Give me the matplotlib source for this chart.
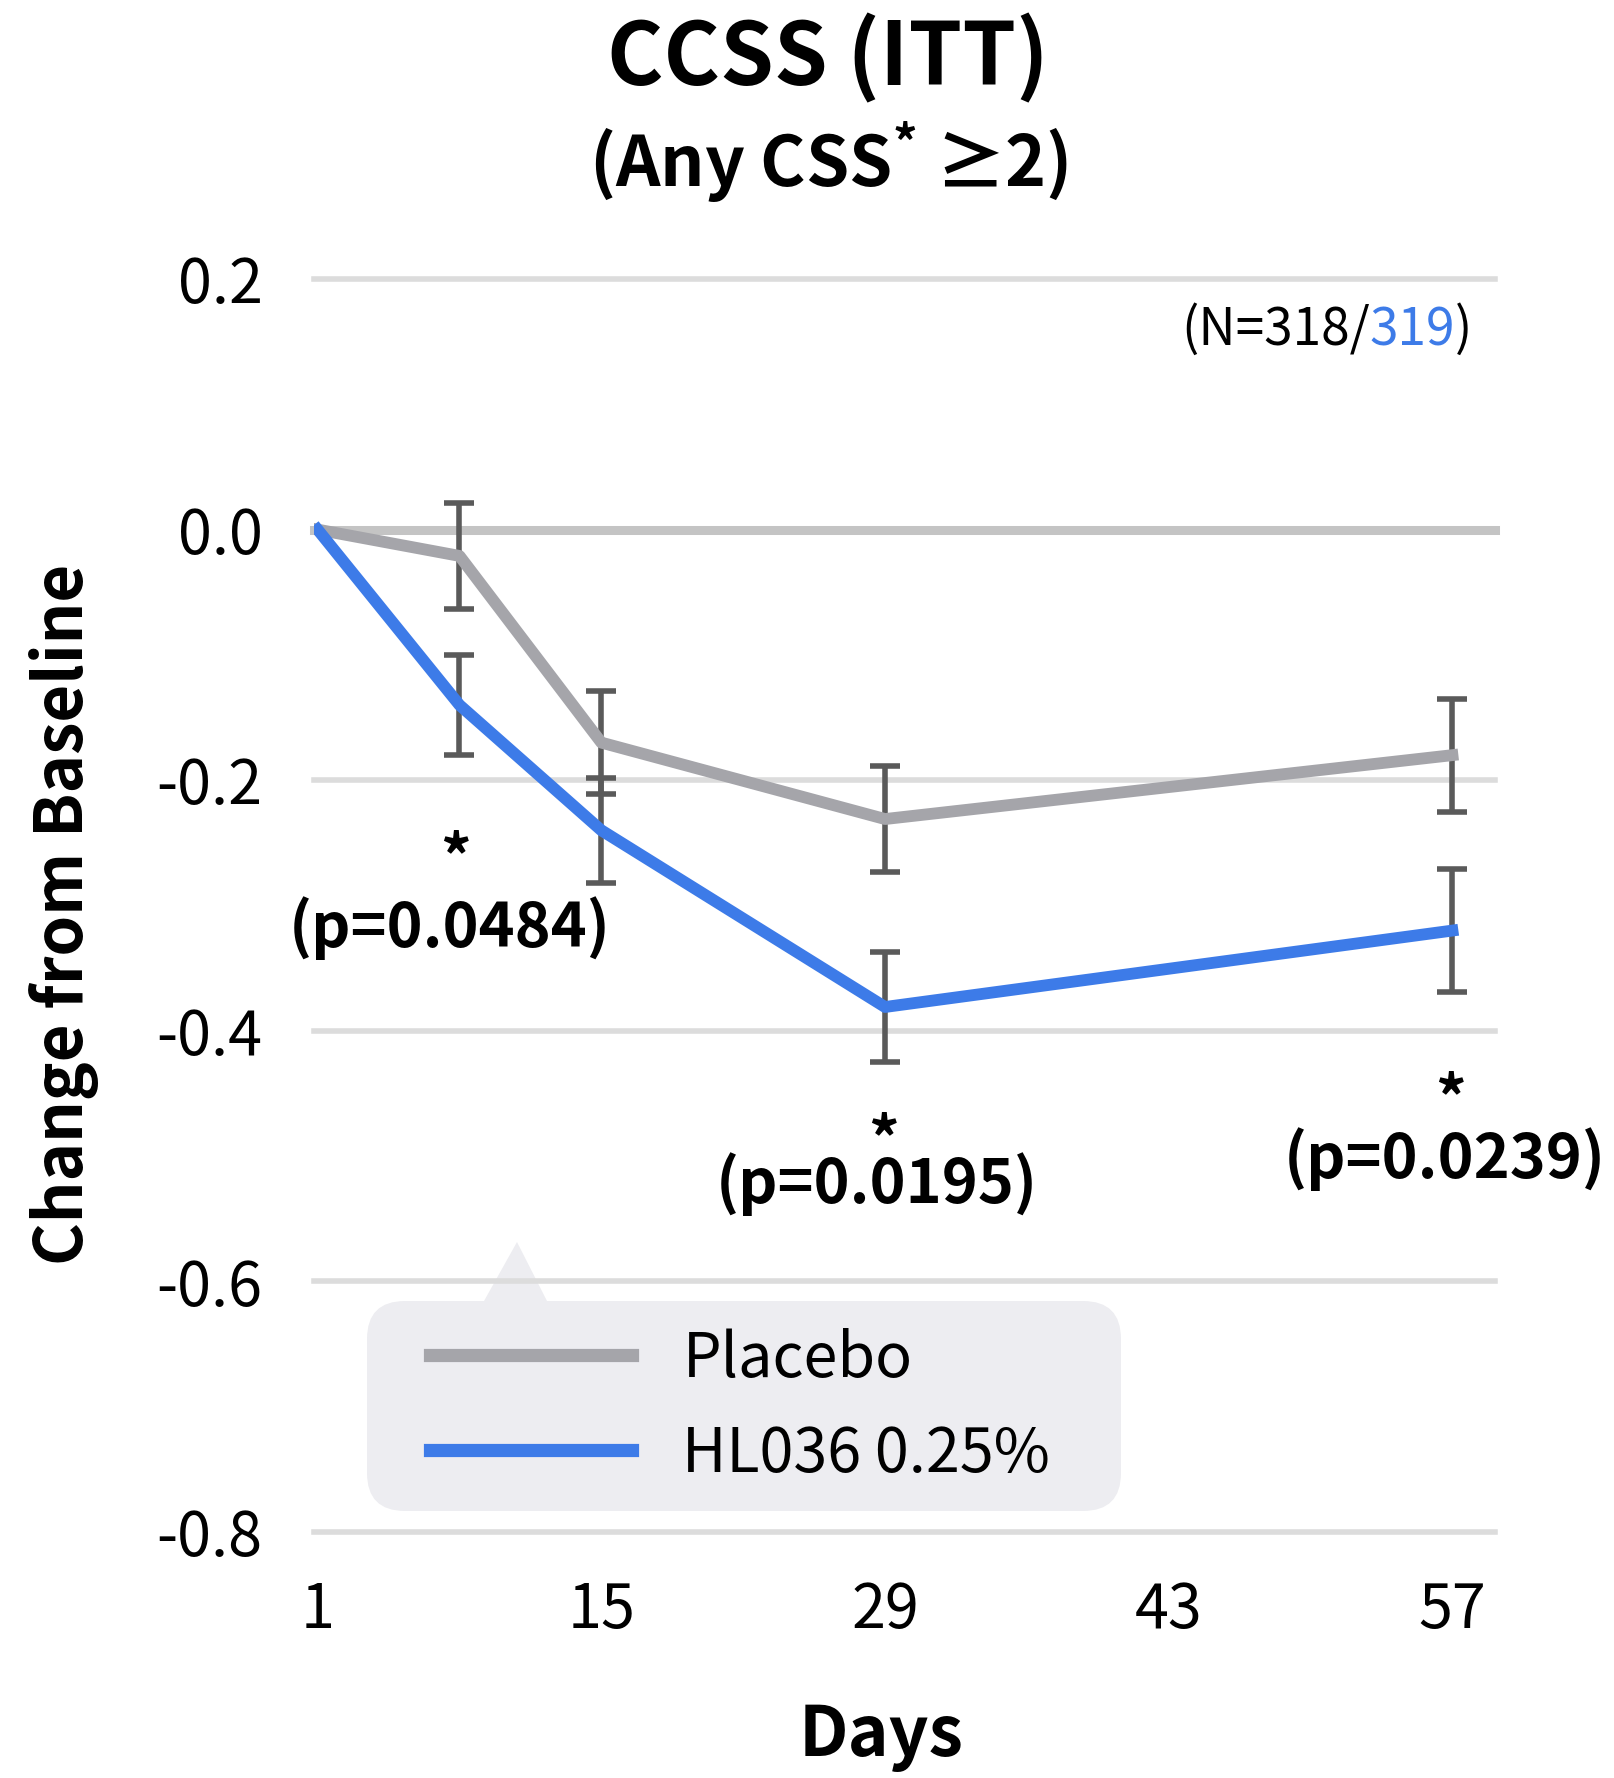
import matplotlib
matplotlib.use("Agg")
import matplotlib.pyplot as plt
from matplotlib.ticker import FuncFormatter
from matplotlib.patches import FancyBboxPatch, Polygon
from matplotlib.transforms import IdentityTransform

FONT = ["Noto Sans CJK KR", "DejaVu Sans"]
plt.rcParams["font.family"] = FONT
plt.rcParams["mathtext.fontset"] = "custom"
plt.rcParams["mathtext.bf"] = "Noto Sans CJK KR:bold"
plt.rcParams["mathtext.rm"] = "Noto Sans CJK KR"

days = [1, 8, 15, 29, 57]
placebo = [0.0, -0.021, -0.170, -0.231, -0.180]
placebo_err = [0.0, 0.042, 0.041, 0.042, 0.045]
hl036 = [0.0, -0.140, -0.240, -0.381, -0.320]
hl036_err = [0.0, 0.040, 0.042, 0.044, 0.049]
x_ticks = [1, 15, 29, 43, 57]
y_ticks = [-0.8, -0.6, -0.4, -0.2, 0.0, 0.2]
p_labels = ["(p=0.0484)", "(p=0.0195)", "(p=0.0239)"]

GRAY = "#a5a5aa"
BLUE = "#3d7be8"
ERR = "#5a5a5a"

fig = plt.figure(figsize=(16.14, 17.78), dpi=100)
ax = fig.add_axes([314 / 1614, 1 - 1532 / 1778, 1181 / 1614, 1253 / 1778])
ax.patch.set_visible(False)

# grid lines
for y in y_ticks:
    if y == 0.0:
        ax.axhline(y, color="#c4c4c4", linewidth=6.5, zorder=1, clip_on=False)
    else:
        ax.axhline(y, color="#dcdcdc", linewidth=4, zorder=1, clip_on=False)

ax.errorbar(days[1:], placebo[1:], yerr=placebo_err[1:], fmt="none",
            ecolor=ERR, elinewidth=4, capsize=11, capthick=4, zorder=2)
ax.errorbar(days[1:], hl036[1:], yerr=hl036_err[1:], fmt="none",
            ecolor=ERR, elinewidth=4, capsize=11, capthick=4, zorder=2)
ax.plot(days, placebo, color=GRAY, linewidth=8.5, label="Placebo", zorder=3)
ax.plot(days, hl036, color=BLUE, linewidth=8.5, label="HL036 0.25%", zorder=4)

ax.set_xlim(0.82, 59.1)
ax.set_ylim(-0.8, 0.2)
ax.set_xticks(x_ticks)
ax.set_yticks(y_ticks)
ax.yaxis.set_major_formatter(FuncFormatter(lambda v, pos: f"{v:.1f}".replace("\u2212", "-")))
ax.tick_params(axis="both", length=0, labelsize=44)
ax.tick_params(axis="y", pad=37)
ax.tick_params(axis="x", pad=34)
for s in ax.spines.values():
    s.set_visible(False)

fig.canvas.draw()
r = fig.canvas.get_renderer()
inv = ax.transData.inverted()

# significance marks: star above the p value, one text each
p_pos = [(7.5, -0.318), (28.6, -0.522), (56.6, -0.502)]
spacing = [1.08, 0.56, 0.88]
for (px, py), lab, ls in zip(p_pos, p_labels, spacing):
    probe = ax.text(px, py, lab, ha="center", va="center", fontsize=44, fontweight="bold")
    h = probe.get_window_extent(r).height
    probe.remove()
    ax.annotate(" *\n" + lab, xy=(px, py), xytext=(0, -h / 2), textcoords="offset pixels",
                ha="center", va="bottom", multialignment="center", linespacing=ls,
                fontsize=44, fontweight="bold")

# N text, right-aligned in three pieces
t_close = ax.text(58.0, 0.159, ")", ha="right", va="center", fontsize=37)
x0 = t_close.get_window_extent(r).x0
t_num = ax.text(inv.transform((x0, 0))[0], 0.159, "319", ha="right", va="center",
                fontsize=37, color=BLUE)
x0 = t_num.get_window_extent(r).x0
ax.text(inv.transform((x0, 0))[0], 0.159, "(N=318/", ha="right", va="center", fontsize=37)

# legend background (callout)
fig.patches.append(FancyBboxPatch((367, 267), 754, 210,
                                  boxstyle="round,pad=0,rounding_size=38",
                                  facecolor="#ededf1", edgecolor="none",
                                  transform=IdentityTransform(), zorder=-1, figure=fig))
fig.patches.append(Polygon([(517, 536), (484, 477), (547, 477)], closed=True,
                           facecolor="#ededf1", edgecolor="none",
                           transform=IdentityTransform(), zorder=-1, figure=fig))

leg = ax.legend(loc="center left", bbox_to_anchor=(430, 1778 - 1407),
                bbox_transform=IdentityTransform(), frameon=False, fontsize=44,
                handlelength=3.3, handletextpad=0.83, labelspacing=0.53,
                borderpad=0, borderaxespad=0)
for h in leg.get_lines():
    h.set_linewidth(9.5)

fig.text(828 / 1614, 1 - 59 / 1778, "CCSS (ITT)", ha="center", va="center",
         fontsize=62, fontweight="bold")
fig.text(828 / 1614, 1 - 162 / 1778, r"(Any CSS$^{\mathbf{*}}$ ≥2)", ha="center",
         va="center", fontsize=50, fontweight="bold")
fig.text(64 / 1614, 1 - 914 / 1778, "Change from Baseline", ha="center", va="center",
         rotation=90, fontsize=47, fontweight="bold")
fig.text(881 / 1614, 1 - 1737 / 1778, "Days", ha="center", va="center",
         fontsize=50, fontweight="bold")

fig.savefig("out.png", dpi=100)
